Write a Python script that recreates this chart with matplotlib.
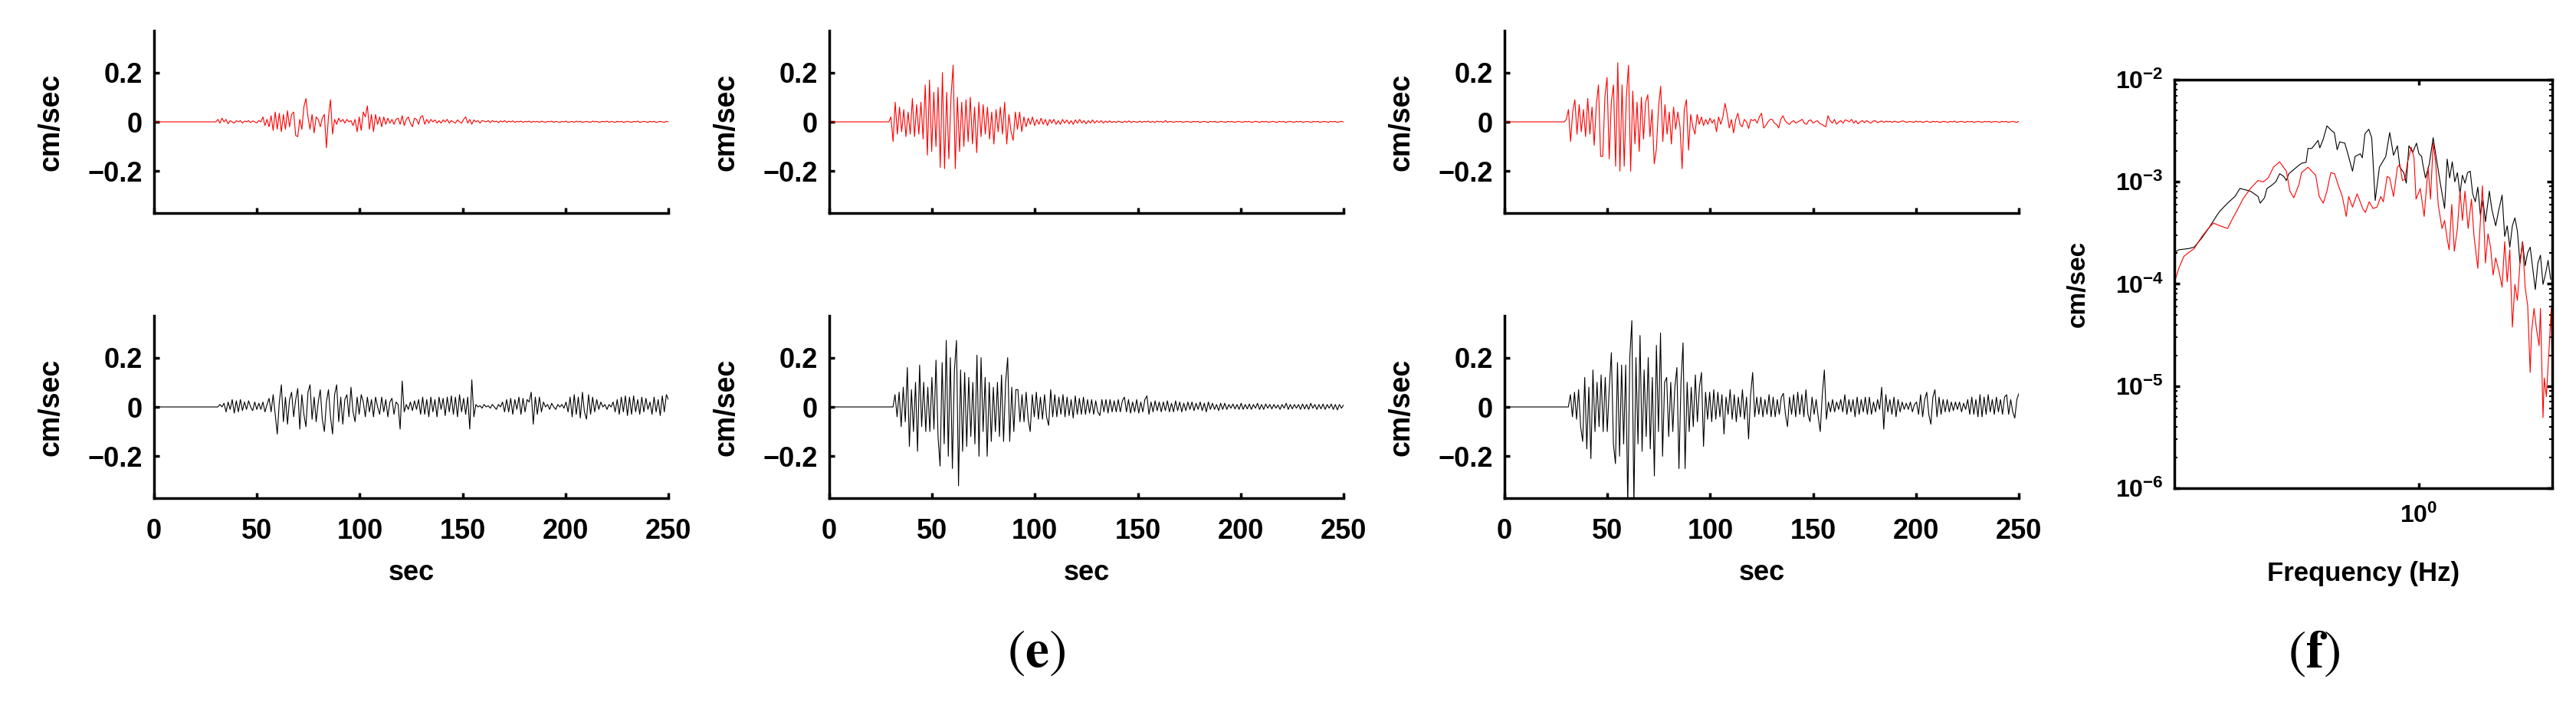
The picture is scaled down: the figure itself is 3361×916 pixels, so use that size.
import numpy as np
import matplotlib.pyplot as plt
from matplotlib.ticker import NullLocator, NullFormatter, LogLocator

plt.rcParams['font.family'] = ['Liberation Sans', 'DejaVu Sans']
plt.rcParams['font.weight'] = 'bold'
plt.rcParams['mathtext.fontset'] = 'custom'
plt.rcParams['mathtext.rm'] = 'Liberation Sans:bold'
plt.rcParams['mathtext.bf'] = 'Liberation Sans:bold'
plt.rcParams['mathtext.it'] = 'Liberation Sans:bold'

# velocity records, 1 s samples after the onset time up to 250 s (cm/sec)
onset_a_top = 30
vel_a_top = [
    0.01, -0.005, 0.015, 0.0, 0.01, -0.008, 0.005, 0.0, -0.005, 0.005,
    0.0, 0.005, -0.005, 0.003, 0.0, 0.005, -0.003, 0.004, 0.0, -0.004,
    0.005, 0.0, 0.02, -0.015, 0.01, -0.02, 0.025, -0.035, 0.04, -0.03,
    0.035, -0.04, 0.03, -0.03, 0.045, -0.02, 0.03, 0.04, -0.055, -0.06,
    0.01, -0.03, 0.06, 0.095, 0.02, -0.03, 0.03, -0.045, 0.02, 0.01,
    -0.02, 0.015, 0.03, -0.105, 0.02, 0.09, -0.05, 0.01, -0.01, 0.015,
    0.0, 0.01, -0.005, 0.01, 0.0, 0.005, -0.015, 0.01, -0.04, 0.02,
    -0.035, 0.04, 0.02, 0.065, -0.03, 0.03, -0.04, 0.03, -0.01, 0.02,
    -0.02, 0.02, -0.01, 0.015, -0.005, 0.01, -0.01, 0.01, 0.015, -0.01,
    0.025, -0.015, 0.01, 0.02, -0.005, -0.02, 0.015, 0.01, -0.01, 0.02,
    0.025, -0.01, 0.01, -0.005, 0.01, 0.0, 0.008, -0.005, 0.005, -0.005,
    0.008, 0.0, 0.01, -0.005, 0.005, 0.0, -0.005, 0.008, 0.0, -0.005,
    0.01, 0.02, -0.005, 0.01, -0.01, 0.008, 0.0, 0.005, -0.005, 0.005,
    0.003, 0.0, 0.005, -0.003, 0.005, 0.0, 0.003, -0.003, 0.004, 0.0,
    0.005, -0.002, 0.003, 0.0, 0.004, -0.002, 0.002, 0.0, 0.003, -0.002,
    0.002, 0.0, 0.003, -0.002, 0.002, 0.0, 0.002, -0.002, 0.003, 0.0,
    -0.002, 0.002, 0.0, 0.003, -0.002, 0.002, 0.0, -0.002, 0.002, 0.0,
    0.003, -0.002, 0.0, 0.002, -0.002, 0.003, 0.0, 0.002, -0.002, 0.0,
    0.002, 0.0, -0.002, 0.003, 0.0, 0.002, -0.002, 0.0, 0.002, 0.0,
    0.003, -0.002, 0.002, 0.0, -0.002, 0.002, 0.0, 0.002, -0.002, 0.0,
    0.002, 0.0, -0.002, 0.002, 0.0, 0.003, -0.002, 0.0, 0.002, 0.0,
    -0.002, 0.002, 0.0, 0.002, -0.002, 0.0, 0.002, 0.0, -0.002, 0.002, 0.0,
]

onset_a_bot = 31
vel_a_bot = [
    0.01, 0.0, 0.015, -0.02, 0.02, -0.01, 0.03, -0.025, 0.025, -0.02,
    0.03, -0.015, 0.02, -0.01, 0.025, 0.0, -0.015, 0.02, -0.01, 0.015,
    -0.01, 0.02, -0.02, 0.01, 0.035, -0.02, 0.05, -0.03, -0.11, 0.02,
    0.09, -0.06, 0.04, -0.07, 0.03, 0.06, -0.04, 0.03, 0.075, -0.09,
    0.05, -0.03, -0.08, 0.06, 0.09, -0.05, 0.04, -0.06, 0.02, 0.07,
    -0.05, -0.1, 0.02, 0.07, -0.04, -0.11, 0.05, 0.09, -0.06, 0.04,
    -0.07, 0.03, 0.05, -0.04, 0.08, -0.02, -0.06, 0.04, -0.03, 0.05,
    0.02, -0.04, 0.04, -0.02, 0.03, -0.04, 0.04, 0.0, -0.03, 0.04,
    -0.02, 0.03, -0.04, 0.02, 0.035, -0.03, 0.02, 0.01, -0.09, 0.105,
    -0.02, 0.01, -0.01, 0.02, -0.015, 0.025, -0.01, 0.03, -0.03, 0.04,
    -0.03, 0.03, -0.04, 0.04, -0.02, 0.03, -0.04, 0.04, -0.01, 0.035,
    -0.035, 0.04, -0.02, 0.045, -0.03, 0.04, -0.04, 0.05, -0.02, 0.035,
    -0.03, 0.04, -0.09, 0.11, -0.04, 0.01, 0.0, 0.005, -0.005, 0.01,
    0.0, 0.005, -0.005, 0.01, 0.0, -0.01, 0.01, 0.0, 0.02, -0.02,
    0.03, -0.02, 0.035, -0.03, 0.03, -0.01, 0.04, -0.03, 0.035, -0.02,
    0.03, 0.02, 0.06, -0.07, 0.04, -0.03, 0.04, -0.02, 0.02, 0.0,
    0.01, -0.01, 0.015, 0.0, -0.01, 0.01, 0.0, 0.01, -0.005, 0.02,
    -0.02, 0.04, -0.04, 0.05, -0.03, 0.04, -0.045, 0.06, -0.02, -0.05,
    0.05, -0.03, 0.04, -0.02, 0.03, -0.01, 0.02, 0.0, 0.01, -0.01,
    0.01, 0.0, 0.02, -0.02, 0.03, -0.03, 0.04, -0.02, 0.045, -0.035,
    0.04, -0.03, 0.045, -0.02, 0.03, -0.03, 0.04, -0.02, 0.035, -0.01,
    0.02, -0.03, 0.04, -0.02, 0.03, -0.035, 0.045, -0.02, 0.05, 0.03,
]

onset_b_top = 29
vel_b_top = [
    0.02, -0.08, 0.08, -0.05, 0.06, -0.04, 0.05, -0.06, 0.04, -0.05,
    0.095, -0.06, 0.07, -0.05, 0.08, -0.07, 0.15, -0.135, 0.17, -0.12,
    0.12, -0.1, 0.14, -0.185, 0.2, -0.19, 0.12, -0.15, 0.1, 0.23,
    -0.19, 0.1, -0.12, 0.08, -0.1, 0.09, -0.08, 0.1, -0.09, 0.06,
    -0.125, 0.08, -0.06, 0.07, -0.05, 0.06, -0.07, 0.04, -0.09, 0.05,
    -0.04, 0.06, -0.05, 0.08, -0.09, 0.03, -0.04, -0.075, 0.04, -0.03,
    0.04, -0.04, 0.02, -0.02, 0.015, -0.01, 0.02, -0.015, 0.01, -0.01,
    0.015, -0.01, 0.01, -0.015, 0.01, -0.005, 0.01, -0.01, 0.005, -0.01,
    0.01, -0.005, 0.008, -0.008, 0.005, -0.01, 0.008, -0.005, 0.01, -0.005,
    0.005, -0.008, 0.005, -0.005, 0.008, -0.005, 0.005, -0.003, 0.005, -0.005,
    0.003, -0.002, 0.004, -0.003, 0.002, -0.003, 0.003, 0.0, -0.003, 0.003,
    -0.002, 0.004, -0.003, 0.002, 0.0, -0.002, 0.003, -0.002, 0.002, 0.0,
    0.003, -0.002, 0.002, -0.003, 0.003, 0.0, 0.002, -0.002, 0.005, -0.002,
    0.002, 0.0, -0.002, 0.002, 0.0, 0.002, -0.002, 0.0, 0.002, 0.0,
    -0.002, 0.002, 0.0, 0.002, -0.002, 0.0, 0.002, 0.0, -0.002, 0.002,
    0.0, 0.002, -0.002, 0.0, 0.002, 0.0, -0.002, 0.002, 0.0, 0.002,
    -0.002, 0.0, 0.002, 0.0, -0.002, 0.002, 0.0, 0.002, -0.002, 0.0,
    0.002, 0.0, -0.002, 0.002, 0.0, 0.002, -0.002, 0.0, 0.002, 0.0,
    -0.002, 0.002, 0.0, 0.002, -0.002, 0.0, 0.002, 0.0, -0.002, 0.002,
    0.0, 0.002, -0.002, 0.0, 0.002, 0.0, -0.002, 0.002, 0.0, 0.002,
    -0.002, 0.0, 0.002, 0.0, -0.002, 0.002, 0.0, 0.002, -0.002, 0.0,
    0.002, 0.0,
]

onset_b_bot = 31
vel_b_bot = [
    0.05, -0.04, 0.06, -0.08, 0.08, -0.06, 0.16, -0.16, 0.07, -0.1,
    0.1, -0.18, 0.17, -0.08, 0.1, -0.1, 0.08, -0.1, 0.12, -0.09,
    0.19, -0.12, -0.24, 0.18, -0.15, 0.27, -0.2, 0.2, -0.25, 0.15,
    0.27, -0.32, 0.15, -0.18, 0.14, -0.16, 0.12, -0.12, 0.1, -0.15,
    0.21, -0.2, 0.2, -0.1, 0.12, -0.2, 0.1, -0.14, 0.08, -0.1,
    0.1, -0.12, 0.13, -0.14, 0.1, 0.2, -0.14, 0.08, -0.1, 0.07,
    0.07, -0.06, 0.05, -0.06, 0.06, -0.05, -0.1, 0.05, -0.04, 0.06,
    -0.05, 0.04, -0.05, 0.05, -0.04, -0.075, 0.07, -0.04, 0.05, -0.04,
    0.04, -0.03, 0.05, -0.04, 0.04, -0.035, 0.03, -0.045, 0.045, -0.03,
    0.035, -0.03, 0.04, -0.03, 0.03, -0.025, 0.03, -0.03, 0.025, -0.02,
    -0.035, 0.03, -0.02, 0.03, -0.025, 0.03, -0.02, 0.025, -0.02, 0.03,
    -0.02, 0.025, 0.04, -0.02, 0.03, -0.025, 0.02, -0.02, 0.03, -0.025,
    0.02, -0.02, 0.03, 0.045, -0.03, 0.02, -0.02, 0.025, -0.015, 0.02,
    -0.02, 0.02, -0.015, 0.025, -0.02, 0.015, -0.02, 0.025, -0.015, 0.02,
    -0.02, 0.015, -0.015, 0.02, -0.01, 0.02, -0.015, 0.015, -0.01, 0.02,
    -0.015, 0.015, -0.02, 0.02, -0.01, 0.015, -0.01, 0.01, -0.015, 0.015,
    -0.01, 0.015, -0.01, 0.01, -0.005, 0.012, -0.008, 0.01, -0.01, 0.015,
    -0.01, 0.01, -0.008, 0.012, -0.01, 0.01, -0.005, 0.015, -0.01, 0.01,
    -0.01, 0.012, -0.005, 0.01, -0.008, 0.01, -0.005, 0.008, -0.01, 0.01,
    -0.005, 0.015, -0.01, 0.01, -0.008, 0.01, -0.005, 0.01, -0.01, 0.012,
    -0.008, 0.01, -0.01, 0.015, -0.005, 0.01, -0.01, 0.01, -0.008, 0.012,
    -0.01, 0.01, -0.005, 0.012, -0.01, 0.01, -0.012, 0.01, -0.005, 0.008,
]

onset_c_top = 29
vel_c_top = [
    0.01, 0.05, -0.08, 0.04, 0.09, -0.05, 0.07, -0.04, 0.05, -0.06,
    0.095, -0.05, 0.06, -0.095, 0.07, 0.15, -0.14, -0.14, 0.1, 0.18,
    -0.15, 0.08, 0.15, -0.18, 0.24, -0.2, 0.15, -0.18, 0.1, 0.23,
    -0.2, 0.125, -0.09, 0.08, -0.12, 0.1, -0.07, 0.08, 0.11, -0.06,
    0.05, -0.17, -0.11, 0.06, 0.145, -0.08, 0.07, -0.05, 0.04, -0.09,
    0.06, -0.03, 0.04, -0.02, -0.19, 0.05, 0.09, -0.115, 0.03, -0.02,
    -0.05, 0.03, -0.01, 0.02, -0.015, 0.01, -0.01, 0.015, -0.005, 0.01,
    -0.04, 0.02, -0.01, 0.02, 0.075, 0.03, -0.025, 0.01, -0.045, 0.01,
    0.035, -0.01, -0.02, 0.01, 0.0, -0.027, 0.01, 0.005, 0.01, -0.005,
    0.02, 0.035, -0.025, -0.015, 0.0, 0.01, 0.01, -0.005, -0.01, -0.025,
    0.01, 0.025, 0.005, -0.005, -0.01, 0.0, 0.005, -0.005, 0.0, 0.005,
    0.01, -0.005, -0.01, 0.005, 0.008, -0.005, 0.0, 0.005, -0.005, -0.01,
    -0.015, -0.02, 0.025, 0.005, -0.005, 0.01, -0.01, 0.0, 0.005, -0.005,
    0.008, 0.005, 0.0, 0.01, -0.005, 0.005, -0.008, 0.0, 0.005, -0.003,
    0.005, 0.0, -0.005, 0.003, 0.005, -0.003, 0.0, 0.004, -0.002, 0.003,
    0.0, 0.002, -0.002, 0.003, 0.0, -0.002, 0.002, 0.004, 0.0, -0.002,
    0.002, 0.0, -0.002, 0.003, 0.0, 0.002, -0.002, 0.0, 0.003, 0.0,
    -0.002, 0.002, 0.0, 0.002, -0.002, 0.0, 0.002, 0.0, -0.002, 0.002,
    0.0, 0.003, -0.002, 0.0, 0.002, 0.0, -0.002, 0.002, 0.0, 0.002,
    -0.002, 0.0, 0.002, 0.0, -0.002, 0.002, 0.0, 0.002, -0.002, 0.0,
    0.002, 0.0, -0.002, 0.002, 0.0, 0.002, -0.002, 0.0, 0.002, 0.0,
    -0.002, 0.002,
]

onset_c_bot = 31
vel_c_bot = [
    0.05, -0.04, 0.06, -0.05, 0.07, -0.08, -0.14, 0.12, -0.17, 0.08,
    -0.21, 0.15, -0.1, 0.1, -0.08, 0.13, -0.1, 0.12, -0.1, 0.08,
    0.22, -0.15, -0.23, 0.18, -0.2, 0.17, -0.15, 0.17, -0.4, 0.2,
    0.35, -0.4, 0.2, -0.15, 0.29, -0.18, 0.15, -0.12, 0.2, -0.17,
    0.12, -0.28, 0.25, -0.1, 0.3, -0.2, 0.1, 0.12, -0.12, 0.1,
    -0.1, 0.08, 0.16, -0.25, 0.1, 0.26, -0.25, 0.1, -0.1, 0.08,
    -0.08, 0.13, -0.06, 0.08, 0.14, -0.16, 0.06, -0.05, 0.06, -0.06,
    0.07, -0.05, 0.06, -0.04, 0.05, -0.11, 0.04, -0.03, 0.07, -0.05,
    0.05, -0.06, 0.04, -0.04, 0.07, -0.05, 0.04, -0.13, 0.05, 0.14,
    -0.04, 0.04, -0.03, 0.04, -0.04, 0.03, -0.03, 0.05, -0.04, 0.04,
    -0.04, 0.03, -0.03, 0.04, 0.055, -0.03, -0.08, 0.04, -0.03, 0.05,
    -0.04, 0.06, -0.03, 0.05, -0.04, 0.07, -0.03, -0.06, 0.04, -0.03,
    0.03, -0.04, -0.1, 0.05, 0.15, -0.05, 0.02, -0.02, 0.03, -0.02,
    0.02, -0.01, 0.03, -0.02, 0.05, -0.03, 0.03, -0.02, 0.03, -0.04,
    0.04, -0.03, 0.03, -0.02, 0.04, -0.03, 0.04, -0.03, 0.02, -0.02,
    0.03, -0.01, 0.08, -0.09, 0.05, -0.02, 0.03, -0.03, 0.04, -0.04,
    0.03, -0.02, 0.02, -0.01, 0.015, -0.01, 0.02, -0.02, 0.01, 0.02,
    -0.03, 0.05, -0.04, 0.03, 0.06, -0.03, -0.07, 0.04, 0.07, -0.04,
    0.04, -0.03, 0.03, -0.02, 0.03, -0.02, 0.02, -0.015, 0.02, -0.01,
    0.02, -0.02, 0.015, -0.01, 0.03, -0.03, 0.04, -0.03, 0.03, -0.04,
    0.05, -0.04, 0.04, -0.03, 0.05, -0.02, 0.03, -0.03, 0.04, -0.02,
    0.03, -0.03, 0.04, 0.05, -0.03, 0.03, -0.02, -0.045, 0.03, 0.055,
]

# Fourier amplitude spectra (Hz, cm/sec)
freq_black = [
    0.200, 0.206, 0.220, 0.228, 0.240, 0.252, 0.265, 0.270, 0.284, 0.298,
    0.308, 0.319, 0.330, 0.347, 0.352, 0.362, 0.368, 0.378, 0.390, 0.400,
    0.411, 0.418, 0.425, 0.447, 0.462, 0.476, 0.482, 0.494, 0.515, 0.521,
    0.533, 0.546, 0.565, 0.573, 0.584, 0.594, 0.614, 0.625, 0.646, 0.657,
    0.680, 0.689, 0.701, 0.719, 0.733, 0.750, 0.771, 0.804, 0.825, 0.846,
    0.868, 0.882, 0.905, 0.920, 0.936, 0.960, 0.984, 1.000, 1.018, 1.026,
    1.044, 1.070, 1.098, 1.116, 1.135, 1.154, 1.184, 1.204, 1.224, 1.245,
    1.266, 1.288, 1.310, 1.331, 1.354, 1.377, 1.401, 1.424, 1.449, 1.473,
    1.498, 1.523, 1.549, 1.589, 1.616, 1.657, 1.685, 1.728, 1.758, 1.787,
    1.818, 1.849, 1.880, 1.911, 1.944, 1.977, 2.011, 2.045, 2.079, 2.114,
    2.150, 2.187, 2.224, 2.262, 2.300, 2.339, 2.378,
]
amp_black = [
    2.03e-4, 2.16e-4, 2.22e-4, 2.29e-4, 2.83e-4, 3.60e-4, 4.72e-4, 5.16e-4, 6.18e-4, 7.18e-4,
    8.6e-4, 8.35e-4, 8.1e-4, 7.18e-4, 6.18e-4, 6.97e-4, 8.6e-4, 9.14e-4, 1.0e-3, 1.20e-3,
    1.13e-3, 1.03e-3, 1.20e-3, 1.39e-3, 1.52e-3, 1.55e-3, 2.12e-3, 2.12e-3, 2.54e-3, 2.15e-3,
    2.62e-3, 3.53e-3, 3.13e-3, 3.04e-3, 2.06e-3, 2.46e-3, 2.39e-3, 1.94e-3, 1.27e-3, 1.77e-3,
    1.88e-3, 1.72e-3, 2.95e-3, 3.27e-3, 2.70e-3, 6.56e-4, 1.39e-3, 1.77e-3, 3.04e-3, 1.82e-3,
    2.25e-3, 1.39e-3, 1.23e-3, 9.7e-4, 2.25e-3, 1.94e-3, 2.39e-3, 1.88e-3, 1.77e-3, 1.48e-3,
    1.09e-3, 1.48e-3, 2.70e-3, 1.88e-3, 1.31e-3, 9.14e-4, 5.48e-4, 1.67e-3, 1.09e-3, 1.57e-3,
    1.0e-3, 1.23e-3, 7.63e-4, 1.16e-3, 9.7e-4, 1.23e-3, 1.27e-3, 7.63e-4, 6.37e-4, 8.87e-4,
    4.72e-4, 6.76e-4, 4.06e-4, 8.1e-4, 5.32e-4, 3.71e-4, 5.01e-4, 7.40e-4, 2.92e-4, 3.71e-4,
    2.29e-4, 3.71e-4, 4.44e-4, 3.29e-4, 1.60e-4, 2.59e-4, 1.51e-4, 2.03e-4, 2.29e-4, 1.42e-4,
    8.8e-5, 1.60e-4, 1.91e-4, 9.9e-5, 1.26e-4, 1.70e-4, 1.11e-4,
]
freq_red = [
    0.200, 0.206, 0.213, 0.220, 0.228, 0.240, 0.252, 0.259, 0.270, 0.284,
    0.293, 0.303, 0.314, 0.330, 0.347, 0.359, 0.371, 0.384, 0.400, 0.418,
    0.428, 0.439, 0.454, 0.462, 0.482, 0.494, 0.507, 0.519, 0.533, 0.546,
    0.560, 0.574, 0.589, 0.604, 0.620, 0.630, 0.646, 0.666, 0.691, 0.703,
    0.721, 0.739, 0.759, 0.778, 0.791, 0.811, 0.825, 0.846, 0.868, 0.882,
    0.897, 0.912, 0.928, 0.951, 0.968, 0.981, 1.009, 1.035, 1.062, 1.079,
    1.098, 1.116, 1.135, 1.164, 1.184, 1.204, 1.220, 1.241, 1.262, 1.288,
    1.310, 1.331, 1.354, 1.382, 1.413, 1.437, 1.473, 1.485, 1.518, 1.549,
    1.575, 1.602, 1.629, 1.657, 1.699, 1.728, 1.758, 1.787, 1.818, 1.849,
    1.880, 1.911, 1.944, 1.977, 2.011, 2.045, 2.079, 2.097, 2.132, 2.168,
    2.205, 2.224, 2.262, 2.280, 2.312, 2.359, 2.387, 2.400,
]
amp_red = [
    1.02e-4, 1.42e-4, 1.86e-4, 2.03e-4, 2.22e-4, 2.92e-4, 3.60e-4, 3.94e-4, 3.71e-4, 3.49e-4,
    4.31e-4, 5.32e-4, 6.76e-4, 8.6e-4, 1.03e-3, 1.0e-3, 1.09e-3, 1.39e-3, 1.57e-3, 1.27e-3,
    8.1e-4, 6.97e-4, 9.4e-4, 1.23e-3, 1.39e-3, 1.27e-3, 1.16e-3, 7.18e-4, 6.18e-4, 8.1e-4,
    1.23e-3, 1.20e-3, 9.14e-4, 7.18e-4, 4.58e-4, 7.18e-4, 5.65e-4, 7.63e-4, 5.48e-4, 5.01e-4,
    6.37e-4, 5.48e-4, 5.65e-4, 7.18e-4, 6.37e-4, 1.13e-3, 1.09e-3, 7.18e-4, 1.39e-3, 1.48e-3,
    1.03e-3, 1.06e-3, 1.57e-3, 2.18e-3, 1.72e-3, 6.76e-4, 8.6e-4, 4.58e-4, 1.39e-3, 6.76e-4,
    2.39e-3, 1.57e-3, 6.0e-4, 3.49e-4, 4.18e-4, 2.75e-4, 2.16e-4, 6.0e-4, 2.09e-4, 3.49e-4,
    8.1e-4, 4.18e-4, 8.1e-4, 3.49e-4, 6.76e-4, 2.92e-4, 1.42e-4, 2.43e-4, 9.14e-4, 1.60e-4,
    3.10e-4, 2.29e-4, 1.22e-4, 1.80e-4, 1.26e-4, 9.3e-5, 2.59e-4, 1.05e-4, 2.16e-4, 3.78e-5,
    9.9e-5, 6.9e-5, 1.60e-4, 2.59e-4, 9.3e-5, 6.1e-5, 1.36e-5, 3.35e-5, 5.75e-5, 3.56e-5,
    2.48e-5, 5.75e-5, 4.9e-6, 1.2e-5, 7.9e-6, 2.63e-5, 5.75e-5, 1.63e-5,
]

vel_ticks = [-0.2, 0, 0.2]
vel_ticklabels = ['\u22120.2', '0', '0.2']
time_ticks = [0, 50, 100, 150, 200, 250]
spec_yticks = [1e-6, 1e-5, 1e-4, 1e-3, 1e-2]
spec_yticklabels = [r'$\mathbf{10^{-6}}$', r'$\mathbf{10^{-5}}$', r'$\mathbf{10^{-4}}$',
                    r'$\mathbf{10^{-3}}$', r'$\mathbf{10^{-2}}$']

panels = [
    (0, 0, onset_a_top, vel_a_top, 'red'),
    (0, 1, onset_a_bot, vel_a_bot, 'black'),
    (1, 0, onset_b_top, vel_b_top, 'red'),
    (1, 1, onset_b_bot, vel_b_bot, 'black'),
    (2, 0, onset_c_top, vel_c_top, 'red'),
    (2, 1, onset_c_bot, vel_c_bot, 'black'),
]

fig = plt.figure(figsize=(33.62, 9.16), dpi=100)
col_left = [0.0598, 0.3218, 0.5839]
row_bottom = [0.6965, 0.2904]
w, h = 0.1996, 0.2598

for col, row, onset, vals, color in panels:
    ax = fig.add_axes([col_left[col], row_bottom[row], w, h])
    # flat record before the onset, then the 1 s samples
    t = np.concatenate([[0, onset], np.linspace(onset + 1, 250, len(vals))])
    v = np.concatenate([[0, 0], vals])
    ax.plot(t, v, color=color, lw=0.8)
    ax.set_xlim(0, 250)
    ax.set_ylim(-0.37, 0.37)
    ax.spines['top'].set_visible(False)
    ax.spines['right'].set_visible(False)
    ax.spines['left'].set_linewidth(2.5)
    ax.spines['bottom'].set_linewidth(2.5)
    ax.set_yticks(vel_ticks, vel_ticklabels)
    ax.set_xticks(time_ticks)
    ax.tick_params(direction='in', length=5, width=2.5, labelsize=26)
    ax.tick_params(axis='y', pad=11)
    ax.tick_params(axis='x', pad=19)
    if row == 0:
        ax.set_xticklabels([])
    else:
        ax.set_xlabel('sec', fontsize=26, fontweight='bold')
        ax.xaxis.set_label_coords(0.5, -0.335)
    ax.set_ylabel('cm/sec', fontsize=27, fontweight='bold')
    ax.yaxis.set_label_coords(-0.173, 0.5)

axf = fig.add_axes([0.8438, 0.3046, 0.1466, 0.5819])
axf.loglog(freq_black, amp_black, color='black', lw=0.8)
axf.loglog(freq_red, amp_red, color='red', lw=0.8)
axf.set_xlim(0.2, 2.4)
axf.set_ylim(1e-6, 1e-2)
axf.set_xticks([1], [r'$\mathbf{10^{0}}$'])
axf.xaxis.set_minor_locator(NullLocator())
axf.set_yticks(spec_yticks, spec_yticklabels)
axf.yaxis.set_minor_locator(LogLocator(base=10, subs=np.arange(2, 10)))
axf.yaxis.set_minor_formatter(NullFormatter())
for s in axf.spines.values():
    s.set_linewidth(2.5)
axf.tick_params(which='both', direction='in', top=True, right=True, labelsize=23)
axf.tick_params(which='major', length=5, width=2.5)
axf.tick_params(which='minor', length=3, width=1.5)
axf.tick_params(axis='y', pad=10)
axf.tick_params(axis='x', pad=15)
axf.set_xlabel('Frequency (Hz)', fontsize=25, fontweight='bold')
axf.xaxis.set_label_coords(0.5, -0.178)
axf.set_ylabel('cm/sec', fontsize=24, fontweight='bold')
axf.yaxis.set_label_coords(-0.223, 0.5)

fig.text(1352 / 3362, 1 - 853 / 916, r'($\mathbf{e}$)', fontsize=50, family='STIXGeneral',
         math_fontfamily='stix', fontweight='normal', ha='center', va='center')
fig.text(3019 / 3362, 1 - 853 / 916, r'($\mathbf{f}$)', fontsize=50, family='STIXGeneral',
         math_fontfamily='stix', fontweight='normal', ha='center', va='center')

fig.savefig('out.png', dpi=100)
plt.close(fig)
